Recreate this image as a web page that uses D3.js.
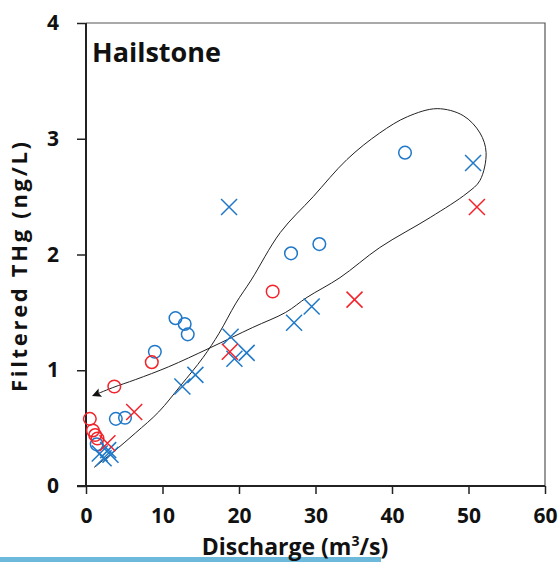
<!DOCTYPE html>
<html>
<head>
<meta charset="utf-8">
<script src="https://cdn.jsdelivr.net/npm/d3@7"></script>
<style>
  body { margin: 0; background: #fff; }
  text { font-family: "Open Sans", Lato, sans-serif; font-weight: bold; fill: #111; }
</style>
</head>
<body>
<div id="chart"></div>
<script>
// discharge (m3/s) vs filtered THg (ng/L)
const blueCircleX = [41.7, 30.5, 26.8, 11.7, 12.9, 13.3, 9.0, 3.9, 5.1, 1.4];
const blueCircleY = [2.88, 2.09, 2.01, 1.45, 1.40, 1.31, 1.16, 0.58, 0.59, 0.36];
const redCircleX = [24.4, 8.6, 3.7, 0.5, 0.9, 1.2, 1.5];
const redCircleY = [1.68, 1.07, 0.86, 0.58, 0.48, 0.44, 0.41];
const blueCrossX = [50.6, 18.7, 29.5, 27.2, 18.9, 21.0, 19.4, 14.3, 12.6, 2.9, 2.3, 1.8, 3.2];
const blueCrossY = [2.79, 2.41, 1.55, 1.41, 1.29, 1.15, 1.10, 0.96, 0.86, 0.31, 0.24, 0.28, 0.27];
const redCrossX = [51.1, 35.1, 18.8, 6.3, 2.8];
const redCrossY = [2.41, 1.61, 1.16, 0.64, 0.37];

// hand drawn hysteresis loop (rising limb, turn, falling limb)
const loopX = [1.05, 3.5, 6.5, 9.5, 12.4, 15.3, 17.4, 19.6, 21.6, 25.4, 29.7, 34.1, 38.4, 42.0, 45.9, 49.3, 51.5, 52.3, 51.5, 49.8, 45.0, 38.4, 33.2, 28.9, 26.1, 21.8, 16.1, 10.8, 6.5, 3.5, 0.9];
const loopY = [0.16, 0.29, 0.46, 0.64, 0.87, 1.11, 1.32, 1.58, 1.78, 2.19, 2.50, 2.82, 3.05, 3.19, 3.26, 3.20, 3.05, 2.88, 2.64, 2.53, 2.32, 2.06, 1.80, 1.63, 1.50, 1.37, 1.19, 1.03, 0.92, 0.85, 0.78];

const xTicks = [0, 10, 20, 30, 40, 50, 60];
const yTicks = [0, 1, 2, 3, 4];

const width = 559, height = 562;
const margin = {top: 23, right: 14, bottom: 76, left: 86};
const blue = '#1f78c8', red = '#f2232a';

const svg = d3.select('#chart').append('svg')
  .attr('width', width)
  .attr('height', height);

const x = d3.scaleLinear().domain([0, 60]).range([margin.left, width - margin.right]);
const y = d3.scaleLinear().domain([0, 4]).range([height - margin.bottom, margin.top]);

// frame on top and right
svg.append('path')
  .attr('d', `M${x(0)},${y(4)}H${x(60)}V${y(0)}`)
  .attr('fill', 'none')
  .attr('stroke', '#555')
  .attr('stroke-width', 1.2);

const xAxis = svg.append('g')
  .attr('transform', `translate(0,${y(0)})`)
  .call(d3.axisBottom(x).tickValues(xTicks).tickFormat(d3.format('d')).tickSize(8).tickPadding(14).tickSizeOuter(0));
const yAxis = svg.append('g')
  .attr('transform', `translate(${x(0)},0)`)
  .call(d3.axisLeft(y).tickValues(yTicks).tickFormat(d3.format('d')).tickSize(9).tickPadding(18).tickSizeOuter(0));

[xAxis, yAxis].forEach(g => {
  g.select('.domain').attr('stroke', '#222').attr('stroke-width', 2);
  g.selectAll('.tick line').attr('stroke', '#222').attr('stroke-width', 1.5);
  g.selectAll('.tick text').attr('font-size', 21).attr('font-family', '"Open Sans", sans-serif').attr('font-weight', 'bold').attr('fill', '#111');
});
// axis lines run past the corner like the original
xAxis.select('.domain').attr('d', `M${x(0) - 9},0H${x(60)}`);
yAxis.select('.domain').attr('d', `M0,${y(0)}V${y(4)}`);

// loop with arrow
svg.append('defs').append('marker')
  .attr('id', 'arrow')
  .attr('viewBox', '0 0 10 10')
  .attr('refX', 9).attr('refY', 5)
  .attr('markerWidth', 10).attr('markerHeight', 9)
  .attr('markerUnits', 'userSpaceOnUse')
  .attr('orient', 'auto')
  .append('path').attr('d', 'M0,0L10,5L0,10L2,5Z').attr('fill', '#111');

const loop = d3.line()
  .x((d, i) => x(loopX[i]))
  .y((d, i) => y(loopY[i]))
  .curve(d3.curveCatmullRom.alpha(0.5));

svg.append('path')
  .attr('d', loop(loopX))
  .attr('fill', 'none')
  .attr('stroke', '#222')
  .attr('stroke-width', 1)
  .attr('marker-end', 'url(#arrow)');

function drawCircles(xs, ys, color) {
  svg.append('g').selectAll('circle').data(xs).enter().append('circle')
    .attr('cx', d => x(d))
    .attr('cy', (d, i) => y(ys[i]))
    .attr('r', 6.3)
    .attr('fill', 'none')
    .attr('stroke', color)
    .attr('stroke-width', 1.5);
}
function drawCrosses(xs, ys, color) {
  const s = 8;
  svg.append('g').selectAll('path').data(xs).enter().append('path')
    .attr('d', (d, i) => {
      const cx = x(d), cy = y(ys[i]);
      return `M${cx - s},${cy - s}L${cx + s},${cy + s}M${cx - s},${cy + s}L${cx + s},${cy - s}`;
    })
    .attr('fill', 'none')
    .attr('stroke', color)
    .attr('stroke-width', 1.5);
}
drawCircles(blueCircleX, blueCircleY, blue);
drawCircles(redCircleX, redCircleY, red);
drawCrosses(blueCrossX, blueCrossY, blue);
drawCrosses(redCrossX, redCrossY, red);

svg.append('text')
  .attr('x', 92).attr('y', 62)
  .attr('font-size', 27)
  .text('Hailstone');

svg.append('text')
  .attr('transform', `translate(27,267) rotate(-90)`)
  .attr('text-anchor', 'middle')
  .attr('font-size', 22)
  .attr('textLength', 250)
  .attr('lengthAdjust', 'spacing')
  .text('Filtered THg (ng/L)');

// bottom bar of the slide
svg.append('rect')
  .attr('x', 0).attr('y', 557)
  .attr('width', 381).attr('height', 5)
  .attr('fill', '#6cb9db');

const xl = svg.append('text')
  .attr('x', 295).attr('y', 555)
  .attr('text-anchor', 'middle')
  .attr('font-size', 23);
xl.append('tspan').text('Discharge (m');
xl.append('tspan').attr('font-size', 14).attr('dy', -9).text('3');
xl.append('tspan').attr('dy', 9).text('/s)');
</script>
</body>
</html>
